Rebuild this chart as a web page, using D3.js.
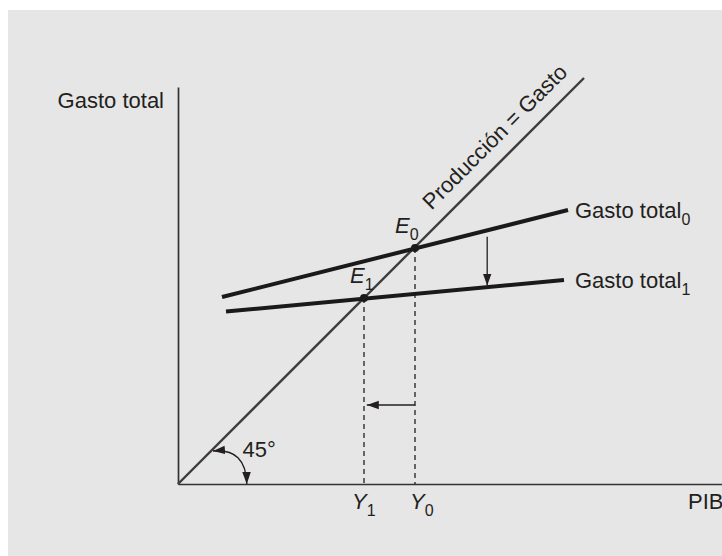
<!DOCTYPE html>
<html><head><meta charset="utf-8">
<script src="https://cdn.jsdelivr.net/npm/d3@7"></script>
<style>
html,body{margin:0;padding:0;background:#fff;}
svg{display:block;}
text{font-family:"Liberation Sans",Arial,Helvetica,sans-serif;fill:#231f20;}
</style></head><body>
<script>
// ---- Data (chart units, same scale on both axes) ----
const xDomain = [0, 136];
const yDomain = [0, 99.25];
const lineProduccion = [[0, 0], [101.5, 101.5]];
const gastoTotal0 = [[11, 46.75], [97.5, 68.5]];
const gastoTotal1 = [[12, 43.1], [96.5, 51]];
const equilibria = [{name: "E", sub: "0", x: 59.25, y: 59}, {name: "E", sub: "1", x: 46.5, y: 46.5}];
const xTickLabels = [{name: "Y", sub: "1", x: 46.5}, {name: "Y", sub: "0", x: 59.25}];
const seriesLabels = [{text: "Gasto total", sub: "0"}, {text: "Gasto total", sub: "1"}];
const yAxisLabel = "Gasto total";
const xAxisLabel = "PIB";
const lineLabel = "Producción = Gasto";
const angleLabel = "45°";
const downArrow = [[77.3, 61.8], [77.3, 49.6]];
const leftArrow = [[59.25, 19.75], [47.2, 19.75]];
const angleArc = [[8.75, 8.25], [17, 9], [17.2, 0]];

// ---- Layout ----
const W = 722, H = 556;
const svg = d3.select("body").append("svg").attr("width", W).attr("height", H);
svg.append("rect").attr("x", 8).attr("y", 10).attr("width", W - 8).attr("height", H - 10).attr("fill", "#e6e6e6");

const x = d3.scaleLinear().domain(xDomain).range([178, 722]);
const y = d3.scaleLinear().domain(yDomain).range([484, 87]);

const defs = svg.append("defs");
defs.append("marker").attr("id", "arr")
  .attr("viewBox", "-12 -5 12 10").attr("refX", 0).attr("refY", 0)
  .attr("markerWidth", 12).attr("markerHeight", 10)
  .attr("markerUnits", "userSpaceOnUse").attr("orient", "auto-start-reverse")
  .append("path").attr("d", "M0,0 L-12,-4.3 L-12,4.3 Z").attr("fill", "#231f20");

// Axes
svg.append("g").attr("transform", `translate(0,${y(0)})`)
  .call(d3.axisBottom(x).tickValues([]).tickSizeOuter(0))
  .call(g => g.select(".domain").attr("stroke", "#333").attr("stroke-width", 1.7));
svg.append("g").attr("transform", `translate(${x(0)},0)`)
  .call(d3.axisLeft(y).tickValues([]).tickSizeOuter(0))
  .call(g => g.select(".domain").attr("stroke", "#333").attr("stroke-width", 1.7));

const line = d3.line().x(d => x(d[0])).y(d => y(d[1]));

// 45 degree line
svg.append("path").attr("d", line(lineProduccion)).attr("fill", "none")
  .attr("stroke", "#3d3d3d").attr("stroke-width", 2.4);

// Dashed verticals
equilibria.forEach(e => {
  svg.append("path").attr("d", line([[e.x, e.y], [e.x, 0]])).attr("fill", "none")
    .attr("stroke", "#231f20").attr("stroke-width", 1.3).attr("stroke-dasharray", "5,4");
});

// Gasto total lines
[gastoTotal0, gastoTotal1].forEach(s => {
  svg.append("path").attr("d", line(s)).attr("fill", "none")
    .attr("stroke", "#1a1a1a").attr("stroke-width", 4);
});

// Dots
svg.selectAll("circle.eq").data(equilibria).join("circle").attr("class", "eq")
  .attr("cx", d => x(d.x)).attr("cy", d => y(d.y)).attr("r", 4).attr("fill", "#1a1a1a");

// Arrows
[downArrow, leftArrow].forEach(a => {
  svg.append("path").attr("d", line(a)).attr("fill", "none")
    .attr("stroke", "#231f20").attr("stroke-width", 1.3).attr("marker-end", "url(#arr)");
});
const p = d3.path();
p.moveTo(x(angleArc[0][0]), y(angleArc[0][1]));
p.quadraticCurveTo(x(angleArc[1][0]), y(angleArc[1][1]), x(angleArc[2][0]), y(angleArc[2][1]));
svg.append("path").attr("d", p.toString()).attr("fill", "none")
  .attr("stroke", "#231f20").attr("stroke-width", 1.4)
  .attr("marker-start", "url(#arr)").attr("marker-end", "url(#arr)");

// Labels
const FS = 22, SFS = 16;
function subText(sel, main, sub, italic) {
  sel.append("tspan").text(main).attr("font-style", italic ? "italic" : "normal");
  sel.append("tspan").text(sub).attr("font-size", SFS).attr("dy", 7);
}

svg.append("text").attr("x", 164).attr("y", 108).attr("text-anchor", "end")
  .attr("font-size", FS).text(yAxisLabel);
svg.append("text").attr("x", 688).attr("y", 509).attr("font-size", FS).text(xAxisLabel);

const xOff = [-12, -5];
xTickLabels.forEach((t, i) => {
  const tx = svg.append("text").attr("x", x(t.x) + xOff[i]).attr("y", 509).attr("font-size", FS);
  subText(tx, t.name, t.sub, true);
});

const eOff = [-20, -14];
equilibria.forEach((e, i) => {
  const tx = svg.append("text").attr("x", x(e.x) + eOff[i]).attr("y", y(e.y) - 15).attr("font-size", FS);
  subText(tx, e.name, e.sub, true);
});

[gastoTotal0, gastoTotal1].forEach((s, i) => {
  const end = s[s.length - 1];
  const tx = svg.append("text").attr("x", 575).attr("y", y(end[1]) + 8).attr("font-size", FS);
  subText(tx, seriesLabels[i].text, seriesLabels[i].sub, false);
});

svg.append("text").attr("transform", `translate(${x(83)},${y(83)}) rotate(-45)`)
  .attr("x", 0).attr("y", -14).attr("text-anchor", "middle").attr("font-size", FS).text(lineLabel);

svg.append("text").attr("x", 242.5).attr("y", 457).attr("font-size", FS).text(angleLabel);
</script>
</body></html>
